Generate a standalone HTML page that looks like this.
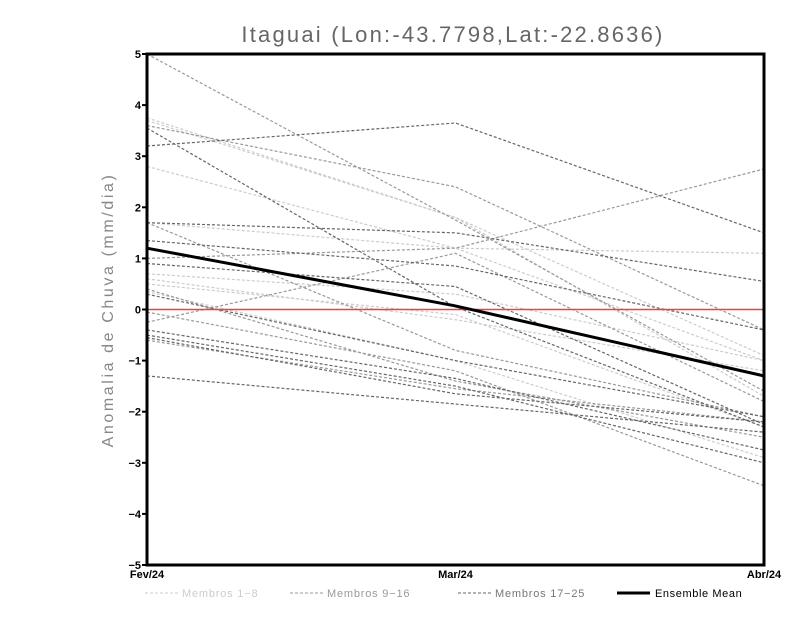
<!DOCTYPE html>
<html><head><meta charset="utf-8"><style>
body{margin:0;background:#fff;}
svg{display:block;font-family:"Liberation Sans",sans-serif;}
</style></head><body>
<svg id="c" width="800" height="618">
<text x="453" y="42" text-anchor="middle" font-size="22" letter-spacing="2.2" fill="#666">Itaguai (Lon:-43.7798,Lat:-22.8636)</text>
<text transform="translate(113,310) rotate(-90)" text-anchor="middle" font-size="16" letter-spacing="2.6" fill="#888">Anomalia de Chuva (mm/dia)</text>
<g id="plot"></g>
<g>
<line x1="145" y1="593" x2="178" y2="593" stroke="#ccc" stroke-dasharray="3,2"/>
<text x="182" y="597" font-size="11" letter-spacing="0.8" fill="#ccc">Membros 1−8</text>
<line x1="290" y1="593" x2="323" y2="593" stroke="#999" stroke-dasharray="3,2"/>
<text x="327" y="597" font-size="11" letter-spacing="0.8" fill="#999">Membros 9−16</text>
<line x1="458" y1="593" x2="491" y2="593" stroke="#666" stroke-dasharray="3,2"/>
<text x="495" y="597" font-size="11" letter-spacing="0.8" fill="#777">Membros 17−25</text>
<line x1="617" y1="593" x2="650" y2="593" stroke="#000" stroke-width="3"/>
<text x="655" y="597" font-size="11" letter-spacing="0.6" fill="#000">Ensemble Mean</text>
</g>
</svg>
<script>
const categories=["Fev/24","Mar/24","Abr/24"];
const yTicks=[-5,-4,-3,-2,-1,0,1,2,3,4,5];
const members1to8=[[3.75,1.8,-0.9],[3.7,1.8,-1.7],[2.8,1.2,-1.0],[1.7,1.2,1.1],[0.7,0.3,-1.0],[0.6,-0.2,-1.2],[0.5,-0.1,-2.3],[0.35,-1.0,-2.9]];
const members9to16=[[5.0,1.75,-1.6],[3.6,2.4,-0.4],[1.7,-0.8,-2.1],[1.0,1.2,2.75],[0.4,-1.4,-2.5],[-0.25,1.1,-1.8],[-0.05,-1.2,-3.45],[-0.6,-1.55,-2.2]];
const members17to25=[[3.55,0.05,-2.3],[3.2,3.65,1.5],[1.35,0.85,-0.4],[1.7,1.5,0.55],[0.9,0.45,-2.25],[0.3,-1.0,-2.1],[-0.4,-1.35,-2.75],[-0.5,-1.5,-3.0],[-0.55,-1.65,-2.2],[-1.3,-1.85,-2.4]];
const ensembleMean=[1.2,0.07,-1.3];
const L=147,R=764,T=54,B=565;
const xs=i=>L+(R-L)*i/(categories.length-1);
const ys=v=>T+(5-v)*(B-T)/10;
const g=document.getElementById('plot');
const NS="http://www.w3.org/2000/svg";
function mk(t,a){const e=document.createElementNS(NS,t);for(const k in a)e.setAttribute(k,a[k]);g.appendChild(e);return e;}
function pts(a){return a.map((v,i)=>xs(i)+","+ys(v)).join(" ");}
[[members1to8,"#ccc","m1"],[members9to16,"#999","m9"],[members17to25,"#666","m17"]].forEach(([arr,col,nm])=>{
 arr.forEach((s,j)=>{const p=mk('polyline',{points:pts(s),fill:"none",stroke:col,"stroke-width":1.2,"stroke-dasharray":"3,2"});
 
 });
});
const z=mk('line',{x1:L,x2:R,y1:ys(0),y2:ys(0),stroke:"#f04040","stroke-width":1.5});


const m=mk('polyline',{points:pts(ensembleMean),fill:"none",stroke:"#000","stroke-width":3});


const fr=mk('rect',{x:L,y:T,width:R-L,height:B-T,fill:"none",stroke:"#000","stroke-width":3});


yTicks.forEach(v=>{
 const t=mk('line',{x1:L-5,x2:L,y1:ys(v),y2:ys(v),stroke:"#000","stroke-width":2});
 
 
 const tx=mk('text',{x:L-6,y:ys(v)+4,"text-anchor":"end","font-size":11,"font-weight":"bold"});
 tx.textContent=(v<0?"−":"")+Math.abs(v);
 
 
});
categories.forEach((c,i)=>{
 const tx=mk('text',{x:xs(i),y:578,"text-anchor":"middle","font-size":11,"font-weight":"bold"});
 tx.textContent=c;
 
 
});
</script>
</body></html>
